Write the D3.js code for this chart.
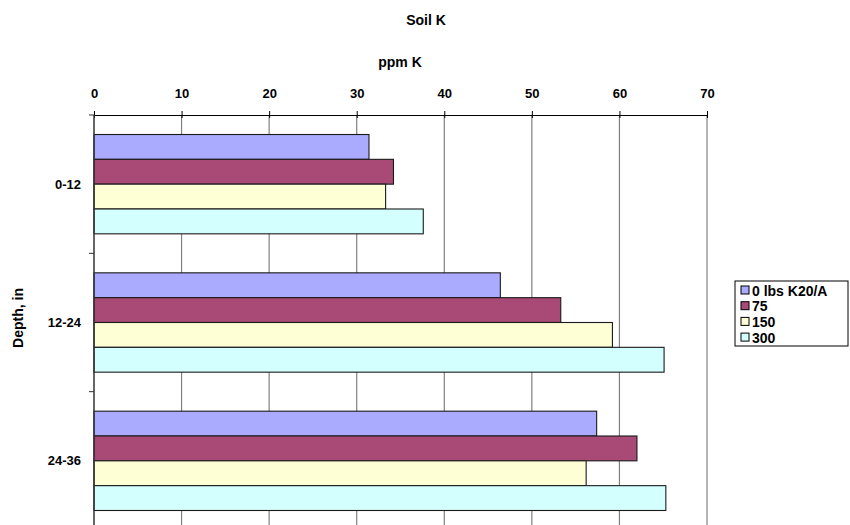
<!DOCTYPE html>
<html>
<head>
<meta charset="utf-8">
<script src="https://cdn.jsdelivr.net/npm/d3@7"></script>
<style>
  html, body { margin: 0; padding: 0; background: #fff; }
  svg { display: block; font-family: "Liberation Sans", Arial, sans-serif; }
</style>
</head>
<body>
<svg id="chart" width="850" height="525"></svg>
<script>
const categories = ["0-12", "12-24", "24-36"];
const seriesNames = ["0 lbs K20/A", "75", "150", "300"];
const values0 = [31.4, 46.4, 57.4];
const values75 = [34.2, 53.3, 62.0];
const values150 = [33.3, 59.2, 56.2];
const values300 = [37.6, 65.1, 65.3];
const seriesValues = [values0, values75, values150, values300];
const xTicks = [0, 10, 20, 30, 40, 50, 60, 70];
const colors = ["#AAAAFF", "#A84A75", "#FFFFD5", "#D4FFFF"];

const svg = d3.select("#chart");
const pLeft = 94, pRight = 707, pTop = 115, pBottom = 530;

const x = d3.scaleLinear().domain([0, 70]).range([pLeft, pRight]);
const y0 = d3.scaleBand().domain(categories).range([pTop, pBottom]).padding(0);
const bw = y0.bandwidth();
const y1 = d3.scaleBand().domain(seriesNames).range([bw * 0.141, bw * 0.859]).padding(0);

// gridlines
svg.append("g").selectAll("line").data(xTicks.slice(1)).join("line")
  .attr("x1", d => x(d)).attr("x2", d => x(d))
  .attr("y1", pTop).attr("y2", pBottom)
  .attr("stroke", "#808080").attr("stroke-width", 1.2);

// bars
const rows = [];
categories.forEach((c, i) => seriesNames.forEach((s, j) => rows.push({c, s, j, v: seriesValues[j][i]})));
svg.append("g").selectAll("rect").data(rows).join("rect")
  .attr("x", x(0))
  .attr("y", d => y0(d.c) + y1(d.s))
  .attr("width", d => x(d.v) - x(0))
  .attr("height", y1.bandwidth())
  .attr("fill", d => colors[d.j])
  .attr("stroke", "#1a1a1a").attr("stroke-width", 1.1);

// top axis
const xAxis = d3.axisTop(x).tickValues(xTicks).tickSize(4).tickSizeOuter(0);
const gx = svg.append("g").attr("transform", `translate(0,${pTop})`).call(xAxis);
gx.select(".domain").attr("stroke", "#000").attr("stroke-width", 1.2);
gx.selectAll(".tick line").attr("stroke", "#000").attr("y2", -4).attr("y1", 3);
gx.selectAll(".tick text").attr("y", -17).attr("font-size", 13).attr("font-weight", "bold")
  .attr("font-family", "Liberation Sans, Arial, sans-serif").attr("fill", "#000");

// left axis
svg.append("line").attr("x1", pLeft).attr("x2", pLeft).attr("y1", pTop).attr("y2", pBottom)
  .attr("stroke", "#333").attr("stroke-width", 1.5);
const boundaries = categories.map(c => y0(c)).concat([y0(categories[categories.length - 1]) + bw]);
svg.append("g").selectAll("line").data(boundaries).join("line")
  .attr("x1", pLeft - 5).attr("x2", pLeft).attr("y1", d => d).attr("y2", d => d)
  .attr("stroke", "#333").attr("stroke-width", 1);
svg.append("g").selectAll("text").data(categories).join("text")
  .attr("x", 81).attr("y", d => y0(d) + bw / 2)
  .attr("text-anchor", "end").attr("dominant-baseline", "central")
  .attr("font-size", 13).attr("font-weight", "bold").text(d => d);

// titles
svg.append("text").attr("x", 426).attr("y", 20).attr("text-anchor", "middle")
  .attr("dominant-baseline", "central").attr("font-size", 14).attr("font-weight", "bold").text("Soil K");
svg.append("text").attr("x", 400).attr("y", 62).attr("text-anchor", "middle")
  .attr("dominant-baseline", "central").attr("font-size", 14).attr("font-weight", "bold").text("ppm K");
svg.append("text").attr("transform", "translate(18,318) rotate(-90)").attr("text-anchor", "middle")
  .attr("dominant-baseline", "central").attr("font-size", 14).attr("font-weight", "bold").text("Depth, in");

// legend
const lg = svg.append("g").attr("transform", "translate(735,281)");
lg.append("rect").attr("x", 0).attr("y", 0).attr("width", 113).attr("height", 65)
  .attr("fill", "#fff").attr("stroke", "#000").attr("stroke-width", 1);
const items = lg.selectAll("g.item").data(seriesNames).join("g").attr("class", "item")
  .attr("transform", (d, i) => `translate(6,${9 + i * 15.7})`);
items.append("rect").attr("x", 0).attr("y", -4).attr("width", 8).attr("height", 8)
  .attr("fill", (d, i) => colors[i]).attr("stroke", "#000").attr("stroke-width", 1);
items.append("text").attr("x", 11).attr("y", 0.5).attr("dominant-baseline", "central")
  .attr("font-size", 14).attr("font-weight", "bold").text(d => d);
</script>
</body>
</html>
